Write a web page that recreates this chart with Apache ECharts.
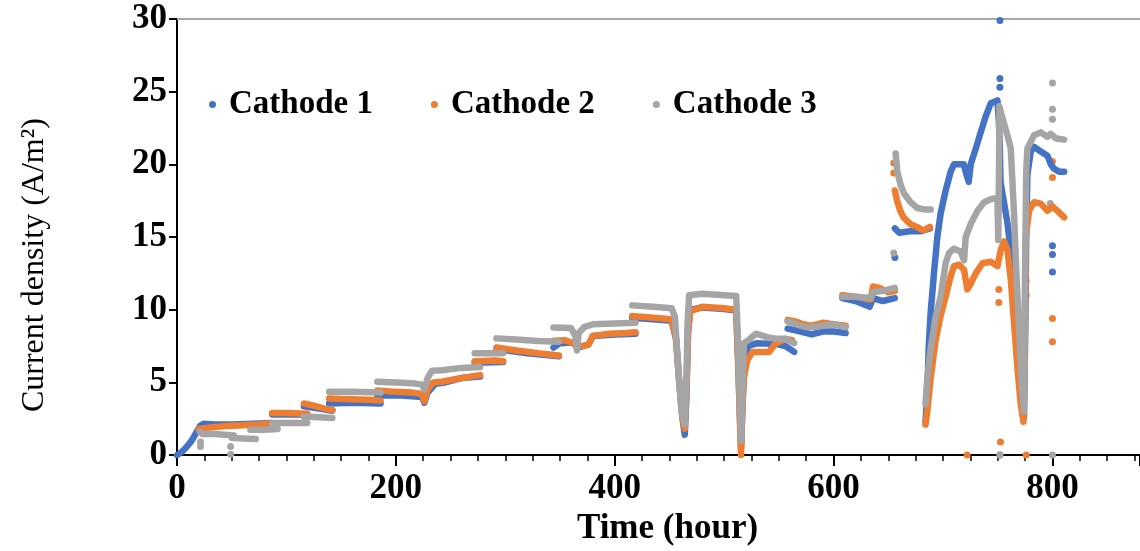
<!DOCTYPE html>
<html lang="en">
<head>
    <meta charset="UTF-8">
    <title>Current density</title>
    <style>
        html, body { margin: 0; padding: 0; background: #fff; }
    </style>
</head>
<body>
<div id="main" style="width: 1140px;height:551px;"></div>
<script src="https://cdn.jsdelivr.net/npm/echarts@6/dist/echarts.min.js"></script>
<script>
    // legend names
    var names = ['Cathode 1', 'Cathode 2', 'Cathode 3'];
    var colors = ['#4472C4', '#ED7D31', '#A5A5A5'];
    var xTickLabels = [0, 200, 400, 600, 800];

    // Cathode 1: [time (h), current density (A/m2)], one list per continuous run
    var cathode1 = [
        [[0, 0], [4, 0.2], [8, 0.5], [12, 0.85], [15, 1.2], [18, 1.6], [21, 2.0], [24, 2.15], [35, 2.1], [50, 2.1], [70, 2.15], [86, 2.2]],
        [[87, 2.8], [119, 2.8]],
        [[116, 3.35], [130, 3.2], [142, 3.05]],
        [[139, 3.55], [160, 3.6], [186, 3.55]],
        [[183, 4.1], [205, 4.1], [224, 4.0], [226, 3.6], [229, 4.3], [236, 4.9], [245, 5.0], [260, 5.3], [277, 5.4]],
        [[272, 6.35], [298, 6.4]],
        [[292, 7.3], [320, 7.0], [349, 6.8]],
        [[344, 7.4], [350, 7.7], [362, 7.75], [366, 7.4], [376, 7.6], [380, 8.2], [400, 8.3], [419, 8.35]],
        [[416, 9.45], [435, 9.35], [452, 9.25], [456, 8.0], [459, 5.0], [462, 2.5], [464, 1.4], [465.5, 4.0], [467, 8.5], [469, 10.0],
            [480, 10.15], [500, 10.05], [511, 9.95], [513, 6.0], [514.5, 2.5], [515.5, 0.6], [517, 4.0], [519, 6.8], [522, 7.5],
            [530, 7.7], [547, 7.65], [556, 7.5], [564, 7.1]],
        [[558, 8.7], [570, 8.5], [580, 8.3], [590, 8.5], [600, 8.5], [611, 8.4]],
        [[608, 10.8], [620, 10.6], [633, 10.2], [636, 10.8], [645, 10.6], [656, 10.8]],
        [[656, 15.6], [660, 15.3], [670, 15.4], [680, 15.4], [688, 15.6]],
        [[684, 2.3], [685.6, 4.2], [687, 7.6], [688.7, 9.8], [691.7, 12.5], [694.8, 15.0], [697.8, 16.6], [702.4, 18.2], [707, 19.5],
            [710, 20.0], [719, 20.0], [721, 19.4], [723.5, 18.8], [725.3, 20.0], [730, 21.1], [734.4, 22.2], [739, 23.3], [743.6, 24.2],
            [749.7, 24.4], [751, 23.0], [752, 21.0], [752.5, 18.8], [755, 17.7], [758.8, 16.0], [762, 14.0], [765, 11.5], [768, 8.5],
            [771, 5.5], [773, 3.0], [774, 2.6], [775, 8.0], [776, 15.0], [777.1, 19.3], [780.2, 20.9], [783.2, 21.2], [789, 20.9],
            [795.4, 20.6], [798.5, 20.0], [801.5, 19.7], [806, 19.5], [810.7, 19.5]]
    ];
    var cathode1Dots = [[656, 13.6], [752, 29.9], [752, 25.9], [752, 25.3], [752, 0], [800, 14.4], [800, 13.8], [800, 12.6]];

    var cathode2 = [
        [[19.8, 1.8], [30, 1.9], [45, 2.0], [60, 2.05], [75, 2.1], [86, 2.2]],
        [[87, 2.9], [100, 2.9], [119, 2.85]],
        [[116, 3.55], [125, 3.4], [135, 3.2], [142, 3.1]],
        [[139, 3.9], [160, 3.85], [175, 3.8], [186, 3.75]],
        [[183, 4.45], [200, 4.35], [215, 4.3], [224, 4.2], [226, 3.7], [229, 4.5], [234, 5.0], [242, 5.05], [260, 5.3], [277, 5.5]],
        [[272, 6.45], [290, 6.5], [298, 6.45]],
        [[292, 7.4], [310, 7.2], [330, 7.0], [349, 6.85]],
        [[344, 7.87], [355, 7.9], [364, 7.6], [370, 7.5], [376, 7.6], [380, 8.2], [395, 8.35], [410, 8.4], [419, 8.45]],
        [[416, 9.57], [435, 9.45], [452, 9.35], [456, 8.0], [459, 5.0], [462, 2.5], [464, 1.8], [465.5, 4.5], [467, 8.5], [469, 9.9],
            [480, 10.2], [500, 10.1], [511, 10.0], [513, 6.0], [514.5, 2.0], [515.4, 0.0], [516.5, 3.0], [518, 5.3], [521, 6.5],
            [526, 7.1], [541, 7.1], [547, 7.67], [556, 8.0], [562, 7.9]],
        [[558, 9.3], [565, 9.2], [572, 9.0], [580, 8.9], [590, 9.1], [600, 9.0], [611, 8.9]],
        [[608, 11.0], [620, 10.9], [634, 10.7], [636, 11.6], [642, 11.5], [650, 11.2], [656, 11.3]],
        [[656, 18.2], [658, 17.5], [661, 16.8], [664, 16.35], [670, 15.9], [676, 15.7], [682, 15.45], [688, 15.7]],
        [[684, 2.1], [685.6, 3.0], [688.7, 5.3], [693, 7.8], [697.8, 9.6], [702.4, 10.9], [707, 12.3], [710, 13.0], [714.6, 13.1],
            [719.2, 12.75], [722.2, 11.4], [725.3, 11.8], [729.9, 12.5], [736, 13.2], [743.6, 13.3], [749.7, 13.0], [752.7, 14.1],
            [755.8, 14.7], [758.8, 14.1], [761.9, 12.1], [764.9, 9.1], [768, 6.0], [771, 3.5], [773.5, 2.3], [774.5, 6.0],
            [775.6, 15.0], [778.6, 16.8], [783.2, 17.4], [789.3, 17.3], [795.4, 16.8], [800, 17.1], [804.6, 16.8], [810.7, 16.35]]
    ];
    var cathode2Dots = [[655, 20.1], [655, 19.4], [722, 0], [751, 10.5], [751, 11.4], [752.5, 0.9], [776, 0], [776, 11], [776, 12],
        [800, 20.2], [800, 19.1], [800, 9.4], [800, 7.8]];

    var cathode3 = [
        [[21, 1.6], [23, 1.45], [35, 1.45], [52, 1.35]],
        [[50, 1.2], [60, 1.15], [72, 1.1]],
        [[67, 1.75], [80, 1.75], [92, 1.8]],
        [[87, 2.2], [105, 2.2], [119, 2.2]],
        [[116, 2.65], [130, 2.6], [142, 2.55]],
        [[139, 4.35], [160, 4.35], [186, 4.3]],
        [[183, 5.05], [200, 5.0], [215, 4.95], [224, 4.85], [226, 4.5], [229, 5.3], [233, 5.8], [242, 5.84], [260, 6.0], [277, 6.06]],
        [[272, 7.0], [290, 7.0], [298, 7.0]],
        [[292, 8.03], [310, 7.95], [330, 7.85], [349, 7.8]],
        [[344, 8.78], [360, 8.75], [364, 8.2], [365.5, 7.2], [367, 8.4], [372, 8.8], [380, 9.0], [400, 9.05], [419, 9.1]],
        [[416, 10.3], [435, 10.2], [452, 10.1], [455, 9.5], [458, 6.0], [461, 3.0], [464, 2.1], [465.5, 5.0], [466.5, 9.0], [468, 11.0],
            [480, 11.1], [500, 11.0], [511, 10.95], [513, 7.0], [514.5, 3.0], [515.5, 1.0], [517, 5.0], [518, 7.7], [522, 7.9],
            [529, 8.35], [540, 8.1], [547, 8.0], [556, 8.0], [564, 7.7]],
        [[558, 9.2], [566, 9.0], [575, 8.8], [585, 8.85], [600, 9.0], [611, 8.8]],
        [[608, 10.9], [620, 10.9], [634, 10.8], [636, 11.2], [645, 11.3], [656, 11.5]],
        [[656.7, 20.75], [658.2, 19.5], [661.2, 18.6], [664.3, 18.0], [670.4, 17.4], [676.5, 17.0], [682.6, 16.9], [688.7, 16.9]],
        [[684, 3.5], [685.6, 5.3], [688.7, 7.3], [693, 9.4], [697.8, 10.9], [702.4, 13.2], [705.5, 13.9], [710, 14.2], [716, 14.0],
            [719.2, 13.4], [720.7, 15.0], [725.3, 15.9], [731.4, 16.8], [737.5, 17.4], [743.6, 17.6], [749.7, 17.7], [750.5, 14.8],
            [751.2, 20.0], [751.5, 24.0], [753, 23.5], [755, 23.0], [758.8, 22.0], [761.9, 21.1], [764.9, 16.6], [766.4, 13.65],
            [768, 10.9], [769.5, 8.7], [771, 6.4], [772.6, 4.2], [774, 3.0], [774.5, 8.0], [775, 13.0], [775.6, 16.6], [776, 19.5],
            [777.1, 21.1], [783.2, 22.0], [789.3, 22.2], [795.4, 21.9], [798.5, 22.1], [803, 21.8], [810.7, 21.7]]
    ];
    var cathode3Dots = [[21.5, 0.9], [21.5, 0.6], [49, 0.6], [49, 0.05], [655, 13.9], [752, 0], [775, 9.4], [798, 17.3],
        [800, 25.6], [800, 23.8], [800, 23.1], [800, 0]];

    // join runs with an empty point so the line breaks between steps
    function joinRuns(runs) {
        var out = [];
        for (var i = 0; i < runs.length; i++) {
            if (i > 0) out.push([runs[i][0][0], '-']);
            out = out.concat(runs[i]);
        }
        return out;
    }

    var serif = 'Liberation Serif';
    var lines = [cathode1, cathode2, cathode3];
    var dots = [cathode1Dots, cathode2Dots, cathode3Dots];
    var series = [];
    for (var i = 0; i < 3; i++) {
        series.push({
            name: names[i],
            type: 'line',
            data: joinRuns(lines[i]),
            showSymbol: false,
            connectNulls: false,
            itemStyle: {color: colors[i]},
            lineStyle: {color: colors[i], width: 6.5, cap: 'round', join: 'round'},
            silent: true
        });
        series.push({
            name: names[i],
            type: 'scatter',
            data: dots[i],
            symbolSize: 7,
            itemStyle: {color: colors[i], opacity: 1},
            silent: true
        });
    }

    var myChart = echarts.init(document.getElementById('main'));
    var option = {
        animation: false,
        backgroundColor: '#fff',
        grid: {left: 177, right: 0, top: 19, bottom: 90},
        legend: {
            data: names.map(function (n) { return {name: n, icon: 'circle'}; }),
            left: 204,
            top: 83,
            itemWidth: 7,
            itemHeight: 7,
            itemGap: 58,
            textStyle: {fontFamily: serif, fontWeight: 'bold', fontSize: 33, color: '#000', padding: [0, 0, 0, 8]}
        },
        xAxis: [
            {
                type: 'value', position: 'bottom', min: 0, max: 880, interval: 25,
                axisLine: {lineStyle: {color: '#000', width: 2}},
                axisTick: {length: 6, lineStyle: {color: '#000', width: 1.5}},
                splitLine: {show: false},
                axisLabel: {
                    interval: function (idx, value) { return xTickLabels.indexOf(value) >= 0; },
                    formatter: function (v) { return xTickLabels.indexOf(v) >= 0 ? String(v) : ''; },
                    showMaxLabel: false,
                    fontFamily: serif, fontWeight: 'bold', fontSize: 35, color: '#000', margin: 16
                },
                name: 'Time (hour)', nameLocation: 'middle', nameGap: 42,
                nameTextStyle: {fontFamily: serif, fontWeight: 'bold', fontSize: 35, color: '#000', padding: [0, 0, 0, 18]}
            },
            {
                type: 'value', position: 'bottom', min: 0, max: 880, interval: 200,
                axisLine: {show: false},
                axisTick: {length: 11, lineStyle: {color: '#000', width: 2}},
                splitLine: {show: false},
                axisLabel: {show: false}
            },
            {
                type: 'value', position: 'top', min: 0, max: 880,
                axisLine: {show: true, lineStyle: {color: '#a6a6a6', width: 2}},
                axisTick: {show: false},
                splitLine: {show: false},
                axisLabel: {show: false}
            }
        ],
        yAxis: {
            type: 'value', min: 0, max: 30, interval: 5,
            axisLine: {show: true, lineStyle: {color: '#000', width: 2}},
            axisTick: {show: true, length: 8, lineStyle: {color: '#000', width: 2}},
            splitLine: {show: false},
            axisLabel: {fontFamily: serif, fontWeight: 'bold', fontSize: 35, color: '#000', margin: 10},
            name: 'Current density (A/m²)', nameLocation: 'middle', nameGap: 126,
            nameTextStyle: {fontFamily: serif, fontSize: 32, color: '#000', padding: [0, 56, 0, 0]}
        },
        series: series
    };
    myChart.setOption(option);
</script>
</body>
</html>
